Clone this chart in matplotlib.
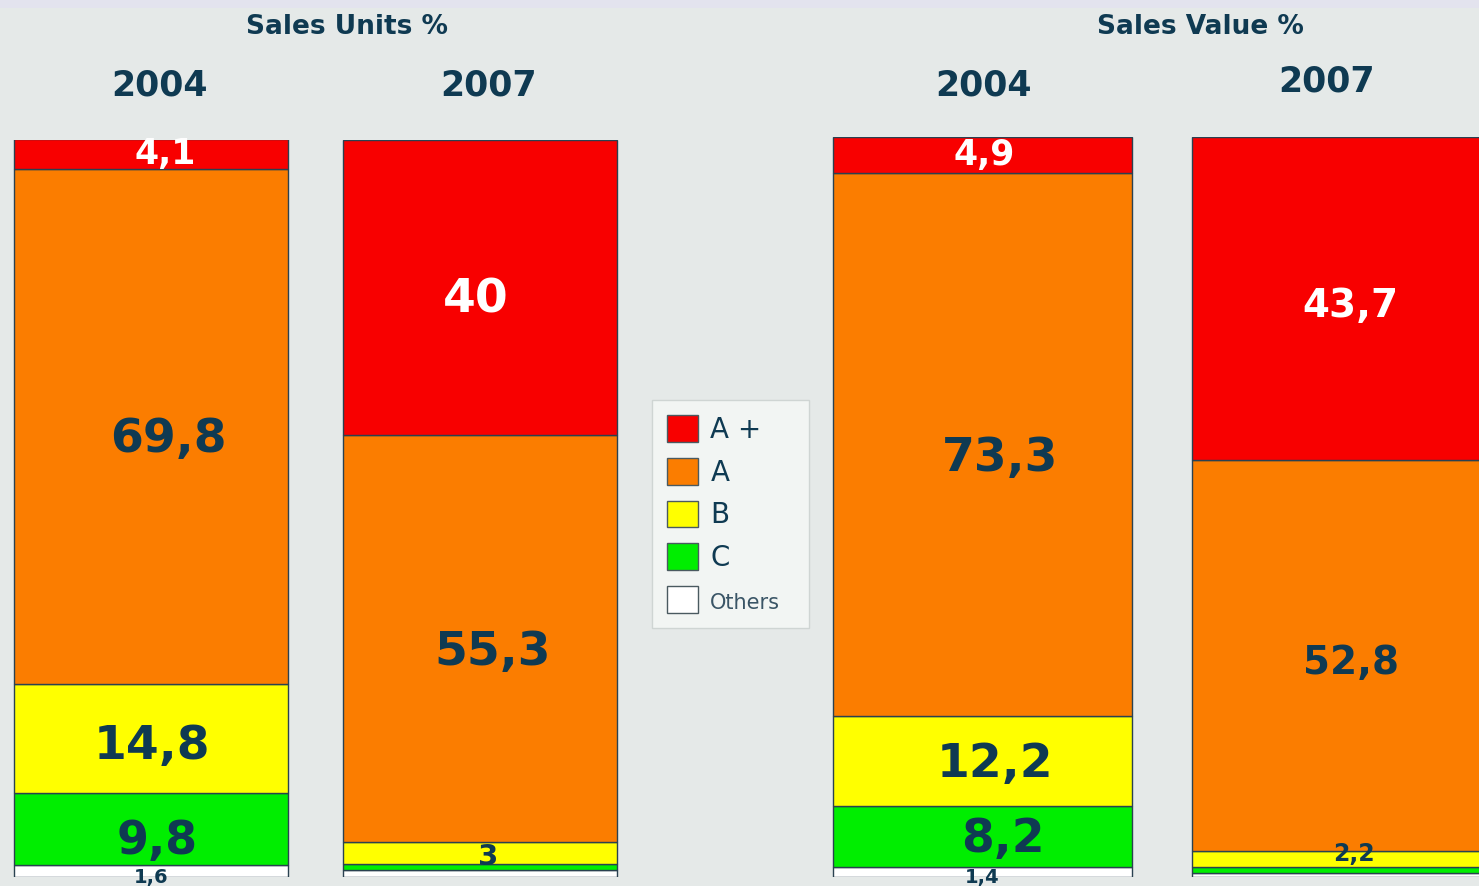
import matplotlib
matplotlib.use("Agg")
import matplotlib.pyplot as plt
from matplotlib.patches import Patch, Rectangle
import numpy as np

# ---------------- data ----------------
categories = ["A +", "A", "B", "C", "Others"]
years = ["2004", "2007"]
units_2004 = [4.1, 69.8, 14.8, 9.8, 1.6]
units_2007 = [40.0, 55.3, 3.0, 0.8, 0.9]
value_2004 = [4.9, 73.3, 12.2, 8.2, 1.4]
value_2007 = [43.7, 52.8, 2.2, 0.8, 0.5]
# which segments carry a printed label
units_2004_shown = [True, True, True, True, True]
units_2007_shown = [True, True, True, False, False]
value_2004_shown = [True, True, True, True, True]
value_2007_shown = [True, True, True, False, False]
panel_titles = ["Sales Units %", "Sales Value %"]

# ---------------- style ----------------
W, H = 1479, 886
BG = "#e5e9e8"
NAVY = "#0f3a52"
EDGE = "#2a4150"
colors = ["#f80000", "#fb7d00", "#ffff00", "#00ee00", "#ffffff"]
label_colors = ["white", NAVY, NAVY, NAVY, NAVY]
# font sizes per bar/segment
fs_units_2004 = [25, 34, 34, 33, 14]
fs_units_2007 = [34, 34, 21, 0, 0]
fs_value_2004 = [25, 34, 34, 34, 14]
fs_value_2007 = [28, 28, 17, 0, 0]
# label nudges in pixels (dx right, dy down)
off_units_2004 = [(14, 0), (17, 13), (1, 8), (6, 12), (0, 1)]
off_units_2007 = [(-4, 13), (13, 14), (8, 4), (0, 0), (0, 0)]
off_value_2004 = [(2, 0), (18, 14), (13, 4), (20, 3), (0, 1)]
off_value_2007 = [(9, 7), (9, 7), (12, -5), (0, 0), (0, 0)]

fig = plt.figure(figsize=(W / 100, H / 100), dpi=100)
fig.patch.set_facecolor(BG)
# light strip at the very top
fig.patches.append(Rectangle((0, 1 - 8 / H), 1, 8 / H, transform=fig.transFigure,
                             facecolor="#e3e3ee", edgecolor="none", zorder=0))


def px_axes(x0, x1, ytop, ybot):
    return fig.add_axes([x0 / W, (H - ybot) / H, (x1 - x0) / W, (ybot - ytop) / H])


def fmt(v):
    s = f"{v:g}"
    return s.replace(".", ",")


def draw_panel(ax, series, shown, sizes, offs, xlim):
    width = 0.833
    x = np.arange(len(series))
    ax.set_xlim(*xlim)
    ax.set_ylim(0, 100)
    ax.axis("off")
    # stack from bottom: Others, C, B, A, A+
    order = list(range(len(categories)))[::-1]
    for bi, vals in enumerate(series):
        bottom = 0.0
        for ci in order:
            v = vals[ci]
            ax.bar(x[bi], v, width=width, bottom=bottom, color=colors[ci],
                   edgecolor=EDGE, linewidth=1.0, zorder=2)
            if shown[bi][ci]:
                yy = bottom + (0.05 if ci == 4 else v / 2)
                dx, dy = offs[bi][ci]
                ax.annotate(fmt(v), xy=(x[bi], yy), xytext=(dx * 0.72, -dy * 0.72),
                            textcoords="offset points", ha="center", va="center",
                            fontsize=sizes[bi][ci], fontweight="bold",
                            color=label_colors[ci], zorder=3, annotation_clip=False)
            bottom += v


# left panel: Sales Units
axL = px_axes(0, 640, 140, 877)
draw_panel(axL, [units_2004, units_2007], [units_2004_shown, units_2007_shown],
           [fs_units_2004, fs_units_2007], [off_units_2004, off_units_2007], (-0.459, 1.486))
# right panel: Sales Value
axR = px_axes(640, 1479, 137, 877)
draw_panel(axR, [value_2004, value_2007], [value_2004_shown, value_2007_shown],
           [fs_value_2004, fs_value_2007], [off_value_2004, off_value_2007], (-0.954, 1.383))

# titles and year labels
fig.text(347 / W, 1 - 27 / H, panel_titles[0], ha="center", va="center",
         fontsize=19, fontweight="bold", color=NAVY)
fig.text(1200 / W, 1 - 27 / H, panel_titles[1], ha="center", va="center",
         fontsize=19, fontweight="bold", color=NAVY)
year_pos = [(160, 86), (489, 86), (984, 85), (1327, 81)]
for i, (xp, yp) in enumerate(year_pos):
    fig.text(xp / W, 1 - yp / H, years[i % 2], ha="center", va="center",
             fontsize=25, fontweight="bold", color=NAVY)

# legend
handles = [Patch(facecolor=colors[i], edgecolor="#4a5a60", linewidth=1.0, label=categories[i])
           for i in range(len(categories))]
leg = fig.legend(handles=handles, loc="upper left",
                 bbox_to_anchor=(652 / W, 1 - 635 / H, 157 / W, 235 / H), mode="expand",
                 fontsize=20, frameon=True, fancybox=False,
                 handlelength=1.1, handleheight=1.1, handletextpad=0.45,
                 labelspacing=0.5, borderpad=0.55, borderaxespad=0.0)
leg.get_frame().set_facecolor("#f6f9f7")
leg.get_frame().set_edgecolor("#c8cfcd")
leg.get_frame().set_linewidth(1.0)
for t in leg.get_texts():
    t.set_color(NAVY)
leg.get_texts()[4].set_fontsize(15)
leg.get_texts()[4].set_color("#3a5566")

fig.savefig("out.png", dpi=100, facecolor=BG)
